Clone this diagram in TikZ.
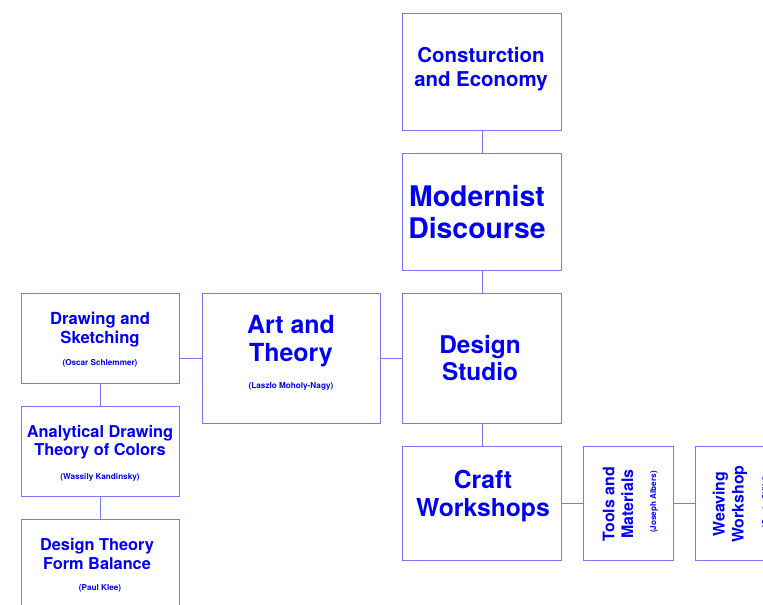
\documentclass[tikz,border=0pt]{standalone}
\usepackage{fontspec}
\setmainfont{TeX Gyre Heros}
\definecolor{boxline}{RGB}{120,120,255}
\definecolor{txt}{RGB}{0,0,245}
\tikzset{
  box/.style={draw=boxline, line width=0.9bp, inner sep=0pt, anchor=north west},
  conn/.style={draw=boxline, line width=0.9bp},
  ttl/.style={text=txt, font=\bfseries, align=center, inner sep=0pt},
  sub/.style={text=txt, font=\bfseries\fontsize{8.2}{9}\selectfont, inner sep=0pt},
}
\begin{document}
\begin{tikzpicture}[x=1bp,y=-1bp]
\useasboundingbox (0,0) rectangle (763,605);
\clip (0,0) rectangle (763,605);
% boxes
\node[box, minimum width=159bp, minimum height=117bp] (constr) at (402,13) {};
\node[box, minimum width=159bp, minimum height=117bp] (modern) at (402,153) {};
\node[box, minimum width=159bp, minimum height=130bp] (studio) at (402,293) {};
\node[box, minimum width=159bp, minimum height=114bp] (craft) at (402,446) {};
\node[box, minimum width=178bp, minimum height=130bp] (art) at (202,293) {};
\node[box, minimum width=158bp, minimum height=90bp] (drawing) at (21,293) {};
\node[box, minimum width=158bp, minimum height=90bp] (analyt) at (21,406) {};
\node[box, minimum width=158bp, minimum height=120bp] (dtheory) at (21,519) {};
\node[box, minimum width=90bp, minimum height=114bp] (tools) at (583,446) {};
\node[box, minimum width=90bp, minimum height=114bp] (weave) at (695,446) {};
% connectors
\draw[conn] (constr.south) -- (modern.north);
\draw[conn] (modern.south) -- (studio.north);
\draw[conn] (studio.south) -- (craft.north);
\draw[conn] (studio.west) -- (art.east);
\draw[conn] (art.west) -- (art.west -| drawing.east);
\draw[conn] (drawing.south) -- (analyt.north);
\draw[conn] (analyt.south) -- (dtheory.north);
\draw[conn] (craft.east) -- (tools.west);
\draw[conn] (tools.east) -- (weave.west);
% texts
\node[ttl, font=\bfseries\fontsize{20.5}{23.5}\selectfont] (tconstr) at (481,69) {Consturction\\and Economy};
\node[ttl, font=\bfseries\fontsize{28.5}{32.5}\selectfont] (tmodern) at (477,212) {Modernist\\Discourse};
\node[ttl, font=\bfseries\fontsize{24.5}{27.5}\selectfont] (tstudio) at (480,358) {Design\\Studio};
\node[ttl, font=\bfseries\fontsize{24.8}{28}\selectfont] (tcraft) at (483,496) {Craft\\Workshops};
\node[ttl, font=\bfseries\fontsize{25}{28.5}\selectfont] (tart) at (291,341) {Art and\\Theory};
\node[sub] (sart) at (291,386) {(Laszlo Moholy-Nagy)};
\node[ttl, font=\bfseries\fontsize{16.7}{19}\selectfont] (tdrawing) at (100,330) {Drawing and\\Sketching};
\node[sub] (sdrawing) at (100,363) {(Oscar Schlemmer)};
\node[ttl, font=\bfseries\fontsize{16.4}{18.5}\selectfont] (tanalyt) at (100,442) {Analytical Drawing\\Theory of Colors};
\node[sub] (sanalyt) at (100,477) {(Wassily Kandinsky)};
\node[ttl, font=\bfseries\fontsize{16.4}{18.5}\selectfont] (tdtheory) at (97,554) {Design Theory\\Form Balance};
\node[sub] (sdtheory) at (100,588) {(Paul Klee)};
\node[ttl, rotate=90, font=\bfseries\fontsize{16}{19}\selectfont] (ttools) at (618,504) {Tools and\\Materials};
\node[sub, rotate=90] (stools) at (654,502) {(Joseph Albers)};
\node[ttl, rotate=90, font=\bfseries\fontsize{16}{19}\selectfont] (tweave) at (730,504) {Weaving\\Workshop};
\node[sub, rotate=90] (sweave) at (766,502) {(Gunta St\"olzl)};
\end{tikzpicture}
\end{document}
